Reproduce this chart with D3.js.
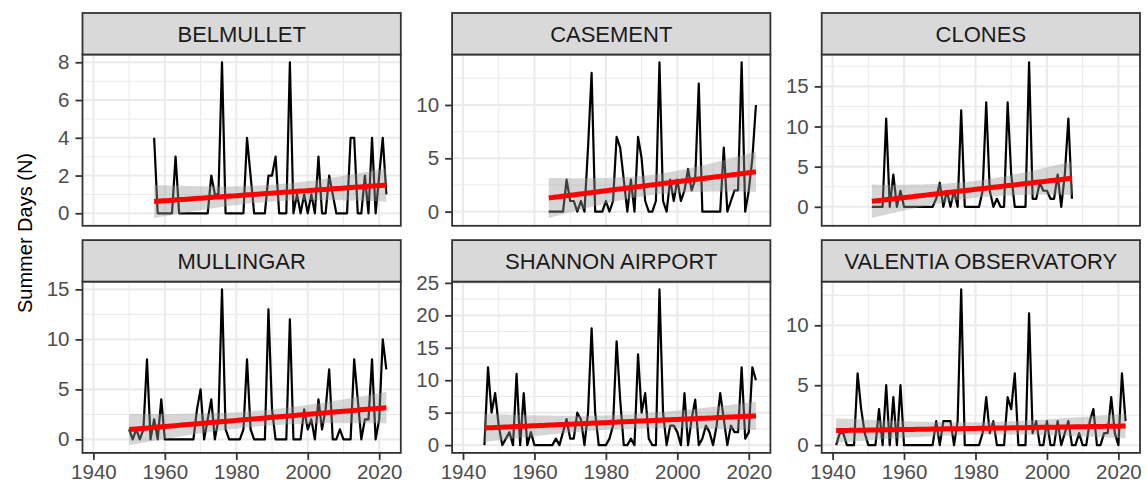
<!DOCTYPE html>
<meta charset="utf-8">
<script src="https://d3js.org/d3.v7.min.js"></script>
<style>
  body { margin: 0; background: #fff; }
  text { font-family: "Liberation Sans", Arial, Helvetica, sans-serif; }
</style>
<div id="my_dataviz"></div>
<script>

// station names, in facet order
var stations = ["BELMULLET", "CASEMENT", "CLONES", "MULLINGAR", "SHANNON AIRPORT", "VALENTIA OBSERVATORY"];
// first year of each record (one value per year after that)
var firstYear = [1957, 1964, 1951, 1950, 1946, 1941];

// summer days per year
var belmullet = [4,0,0,0,0,0,3,0,0,0, 0,0,0,0,0,0,2,1,1,8, 0,0,0,0,0,0,4,2,0,0,
                 0,0,2,2,3,0,0,0,8,0, 1,0,1,0,1,0,3,0,0,2, 1,0,0,0,0,4,4,0,0,2,
                 0,4,0,2,4,1];
var casement = [0,0,0,0,0,3,1,1,0,1, 0,6,13,0,0,0,1,0,1,7, 6,3,0,3,0,7,5,1,0,0,
                1,14,1,0,3,1,3,1,2,4, 2,3,12,0,0,0,0,0,0,6, 0,1,2,2,14,0,2,5,10];
var clones = [0,0,0,0,11,0,4,0,2,0, 0,0,0,0,0,0,0,0,1,3, 0,2,0,2,0,12,0,0,0,0,
              0,2,13,2,0,1,0,0,13,4, 0,0,0,0,18,1,1,3,2,2, 1,1,4,0,4,11,1];
var mullingar = [1,0,1,0,1,8,0,2,0,4, 0,0,0,0,0,0,0,0,0,3, 5,0,2,4,0,2,15,1,0,0,
                 0,0,1,8,1,0,0,0,0,13, 3,0,0,0,0,12,0,0,0,3, 1,2,0,4,1,3,7,0,0,1,
                 0,0,0,8,4,0,2,2,8,0, 2,10,7];
var shannon = [0,12,5,8,3,0,1,2,0,11, 0,8,0,2,0,0,0,0,0,0, 1,0,2,4,1,1,5,4,0,5,
               18,5,0,0,0,1,3,16,7,0, 0,1,0,14,5,8,1,0,0,24, 5,0,3,3,2,0,8,0,4,7,
               0,1,3,2,0,3,8,4,0,3, 2,2,12,1,2,12,10];
var valentia = [0,1,1,0,0,0,6,3,1,0, 0,0,3,0,5,0,4,0,5,0, 0,0,0,0,0,0,0,0,2,0,
                2,2,2,0,2,13,0,0,0,0, 0,1,4,1,2,0,0,0,4,3, 6,0,0,0,11,1,2,0,0,2,
                0,0,2,0,1,2,0,0,1,0, 0,2,3,0,0,1,1,4,1,0, 6,2];
var series = [belmullet, casement, clones, mullingar, shannon, valentia];

// axis ticks
var xTicks = [1940, 1960, 1980, 2000, 2020];
var xMinor = [1950, 1970, 1990, 2010];
var yTicks = [[0,2,4,6,8], [0,5,10], [0,5,10,15], [0,5,10,15], [0,5,10,15,20,25], [0,5,10]];

// layout of the 3 x 2 facets
var W = 1146, H = 482;
var panelLeft = 82.5, panelW = 318.3, gapX = 51.3;
var stripTop = 13, stripH = 41.5, plotH = 171.3, gapY = 14.3;

var svg = d3.select("#my_dataviz")
  .append("svg")
    .attr("width", W)
    .attr("height", H)
    .style("display", "block");

// build rows {year, value} for each station
var data = series.map(function(vals, i) {
  return vals.map(function(v, j) { return {year: firstYear[i] + j, value: v}; });
});

// two-sided 95% t quantile (Cornish-Fisher expansion)
function tq(df) {
  var z = 1.959964;
  return z + (Math.pow(z,3) + z) / (4*df)
           + (5*Math.pow(z,5) + 16*Math.pow(z,3) + 3*z) / (96*df*df)
           + (3*Math.pow(z,7) + 19*Math.pow(z,5) + 17*Math.pow(z,3) - 15*z) / (384*df*df*df);
}

// linear fit with confidence band, like geom_smooth(method = "lm")
function lmBand(rows) {
  var n = rows.length;
  var xb = d3.mean(rows, d => d.year), yb = d3.mean(rows, d => d.value);
  var sxx = d3.sum(rows, d => (d.year - xb) * (d.year - xb));
  var sxy = d3.sum(rows, d => (d.year - xb) * (d.value - yb));
  var b = sxy / sxx, a = yb - b * xb;
  var rss = d3.sum(rows, d => Math.pow(d.value - (a + b * d.year), 2));
  var s = Math.sqrt(rss / (n - 2)), t = tq(n - 2);
  var x0 = d3.min(rows, d => d.year), x1 = d3.max(rows, d => d.year);
  return d3.range(80).map(function(k) {
    var x = x0 + (x1 - x0) * k / 79;
    var fit = a + b * x;
    var se = s * Math.sqrt(1 / n + (x - xb) * (x - xb) / sxx);
    return {year: x, fit: fit, lo: fit - t * se, hi: fit + t * se};
  });
}

// shared x scale, expanded 5% like ggplot
var allYears = [].concat.apply([], data.map(r => r.map(d => d.year)));
var xMin = d3.min(allYears), xMax = d3.max(allYears), xPad = (xMax - xMin) * 0.05;

stations.forEach(function(name, i) {
  var col = i % 3, row = Math.floor(i / 3);
  var px = panelLeft + col * (panelW + gapX);
  var sy = stripTop + row * (stripH + plotH + gapY);
  var py = sy + stripH;

  var rows = data[i];
  var band = lmBand(rows);

  var x = d3.scaleLinear()
    .domain([xMin - xPad, xMax + xPad])
    .range([0, panelW]);

  var lo = Math.min(d3.min(rows, d => d.value), d3.min(band, d => d.lo));
  var hi = Math.max(d3.max(rows, d => d.value), d3.max(band, d => d.hi));
  var pad = (hi - lo) * 0.05;
  var y = d3.scaleLinear()
    .domain([lo - pad, hi + pad])
    .range([plotH, 0]);

  var g = svg.append("g").attr("transform", "translate(" + px + "," + py + ")");

  // minor grid
  var yt = yTicks[i];
  var step = yt[1] - yt[0];
  var yMinor = d3.range(yt[0] - step / 2, hi + pad + step, step).filter(v => v > lo - pad && v < hi + pad);
  g.selectAll(".ymin").data(yMinor).enter().append("line")
    .attr("x1", 0).attr("x2", panelW)
    .attr("y1", d => y(d)).attr("y2", d => y(d))
    .attr("stroke", "#EBEBEB").attr("stroke-width", 1.05);
  g.selectAll(".xmin").data(xMinor).enter().append("line")
    .attr("x1", d => x(d)).attr("x2", d => x(d))
    .attr("y1", 0).attr("y2", plotH)
    .attr("stroke", "#EBEBEB").attr("stroke-width", 1.05);
  // major grid
  g.selectAll(".ymaj").data(yt).enter().append("line")
    .attr("x1", 0).attr("x2", panelW)
    .attr("y1", d => y(d)).attr("y2", d => y(d))
    .attr("stroke", "#EBEBEB").attr("stroke-width", 2.1);
  g.selectAll(".xmaj").data(xTicks).enter().append("line")
    .attr("x1", d => x(d)).attr("x2", d => x(d))
    .attr("y1", 0).attr("y2", plotH)
    .attr("stroke", "#EBEBEB").attr("stroke-width", 2.1);

  // series line
  g.append("path")
    .datum(rows)
    .attr("fill", "none")
    .attr("stroke", "#000")
    .attr("stroke-width", 2.2)
    .attr("stroke-linejoin", "round")
    .attr("d", d3.line().x(d => x(d.year)).y(d => y(d.value)));

  // confidence ribbon
  g.append("path")
    .datum(band)
    .attr("fill", "#999999")
    .attr("fill-opacity", 0.4)
    .attr("d", d3.area().x(d => x(d.year)).y0(d => y(d.lo)).y1(d => y(d.hi)));

  // trend line
  g.append("path")
    .datum(band)
    .attr("fill", "none")
    .attr("stroke", "#FF0000")
    .attr("stroke-width", 5)
    .attr("d", d3.line().x(d => x(d.year)).y(d => y(d.fit)));

  // panel border
  g.append("rect")
    .attr("width", panelW).attr("height", plotH)
    .attr("fill", "none").attr("stroke", "#333333").attr("stroke-width", 1.8);

  // strip
  svg.append("rect")
    .attr("x", px).attr("y", sy)
    .attr("width", panelW).attr("height", stripH)
    .attr("fill", "#D9D9D9").attr("stroke", "#333333").attr("stroke-width", 1.8);
  svg.append("text")
    .attr("x", px + panelW / 2).attr("y", sy + stripH / 2 + 8)
    .attr("text-anchor", "middle")
    .attr("fill", "#1A1A1A")
    .style("font-size", "22px")
    .text(name);

  // y axis
  var ya = g.append("g").call(d3.axisLeft(y).tickValues(yt).tickSize(7).tickPadding(6));
  ya.select(".domain").remove();
  ya.selectAll("line").attr("stroke", "#333333").attr("stroke-width", 1.8);
  ya.selectAll("text").attr("fill", "#4D4D4D").style("font-size", "20.5px")
    .style("font-family", "Liberation Sans, Arial, sans-serif");

  // x axis on bottom row only
  if (row === 1) {
    var xa = g.append("g")
      .attr("transform", "translate(0," + plotH + ")")
      .call(d3.axisBottom(x).tickValues(xTicks).tickFormat(d3.format("d")).tickSize(7).tickPadding(5));
    xa.select(".domain").remove();
    xa.selectAll("line").attr("stroke", "#333333").attr("stroke-width", 1.8);
    xa.selectAll("text").attr("fill", "#4D4D4D").style("font-size", "20.5px")
      .style("font-family", "Liberation Sans, Arial, sans-serif");
  }
});

// y axis title
svg.append("text")
  .attr("transform", "translate(32," + 233 + ") rotate(-90)")
  .attr("text-anchor", "middle")
  .attr("fill", "#000")
  .style("font-size", "20px")
  .text("Summer Days (N)");

</script>
